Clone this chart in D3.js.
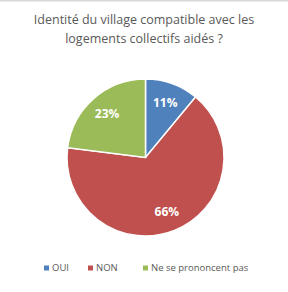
<!DOCTYPE html>
<html>
<head>
<meta charset="utf-8">
<script src="https://cdn.jsdelivr.net/npm/d3@7"></script>
<style>
  body { margin: 0; background: #fff; }
  text { font-family: "Open Sans", "DejaVu Sans", sans-serif; }
</style>
</head>
<body>
<div id="chart"></div>
<script>
// Data.
const categories = ["OUI", "NON", "Ne se prononcent pas"];
const values = [11, 66, 23];
const colors = ["#4F81BD", "#C0504D", "#9BBB59"];
const titleLines = ["Identité du village compatible avec les", "logements collectifs aidés ?"];

const w = 288, h = 292;
const cx = 145.5, cy = 157.5, radius = 78.5;

let svg = d3.select("#chart")
            .append("svg")
            .attr("width", w)
            .attr("height", h);

// Thin frame line at the very top.
svg.append("rect")
    .attr("x", 0).attr("y", 0)
    .attr("width", w).attr("height", 1.5)
    .attr("fill", "#d9d9d9");

// Title, two lines.
svg.append("g")
    .selectAll("text")
    .data(titleLines)
    .enter()
    .append("text")
    .attr("x", 144)
    .attr("y", (d, i) => 24 + i * 19)
    .attr("text-anchor", "middle")
    .attr("font-size", 12.5)
    .attr("fill", "#595959")
    .text(d => d);

// Pie slices, clockwise from 12 o'clock.
const pie = d3.pie().sort(null).value(d => d);
const arc = d3.arc().innerRadius(0).outerRadius(radius);
const labelArc = d3.arc().innerRadius(radius * 0.74).outerRadius(radius * 0.74);
const arcs = pie(values);

let g = svg.append("g").attr("transform", `translate(${cx},${cy})`);

g.selectAll("path")
    .data(arcs)
    .enter()
    .append("path")
    .attr("d", arc)
    .attr("fill", (d, i) => colors[i])
    .attr("stroke", "#fff")
    .attr("stroke-width", 1.5);

g.selectAll("text")
    .data(arcs)
    .enter()
    .append("text")
    .attr("transform", d => `translate(${labelArc.centroid(d)})`)
    .attr("text-anchor", "middle")
    .attr("dy", "0.35em")
    .attr("font-size", 12)
    .attr("font-weight", "bold")
    .attr("fill", "#fff")
    .text(d => d.data + "%");

// Legend.
const legendX = [44, 88, 143];
let legend = svg.append("g")
    .selectAll("g")
    .data(categories)
    .enter()
    .append("g")
    .attr("transform", (d, i) => `translate(${legendX[i]},268)`);

legend.append("rect")
    .attr("x", 0).attr("y", -2.5)
    .attr("width", 5).attr("height", 5)
    .attr("fill", (d, i) => colors[i]);

legend.append("text")
    .attr("x", 8)
    .attr("dy", "0.35em")
    .attr("font-size", 9.5)
    .attr("fill", "#595959")
    .text(d => d);
</script>
</body>
</html>
